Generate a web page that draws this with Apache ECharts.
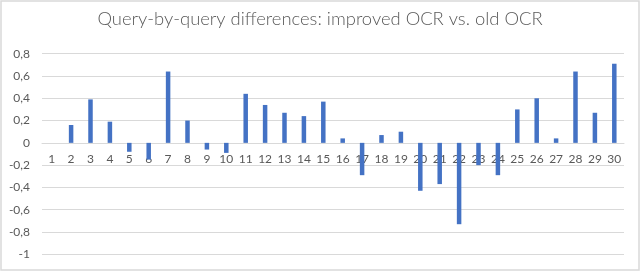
<!DOCTYPE html>
<html><head><meta charset="utf-8">
<script src="https://cdn.jsdelivr.net/npm/echarts@6/dist/echarts.min.js"></script>
<style>html,body{margin:0;padding:0;background:#fff}#c{width:640px;height:271px}</style>
</head><body><div id="c"></div>
<script>
const titleText = "Query-by-query differences: improved OCR vs. old OCR";
const categories = ["1","2","3","4","5","6","7","8","9","10","11","12","13","14","15","16","17","18","19","20","21","22","23","24","25","26","27","28","29","30"];
const differences = [0, 0.16, 0.39, 0.19, -0.08, -0.15, 0.64, 0.2, -0.06, -0.09, 0.44, 0.34, 0.27, 0.24, 0.37, 0.04, -0.29, 0.07, 0.1, -0.43, -0.37, -0.73, -0.2, -0.29, 0.3, 0.4, 0.04, 0.64, 0.27, 0.71];
const yMin = -1, yMax = 0.8, yStep = 0.2;

const gridTop = 53.7, gridBottom = 16.7, H = 271;
const plotH = H - gridTop - gridBottom;
const zeroOffset = -plotH * (0 - yMin) / (yMax - yMin);

const chart = echarts.init(document.getElementById('c'), null, {renderer:'canvas'});
chart.setOption({
  backgroundColor: '#ffffff',
  animation: false,
  title: {
    text: titleText, left: 'center', top: 5,
    textStyle: {fontFamily: 'Lato', fontWeight: 300, fontSize: 18.4, color: '#595959'}
  },
  graphic: [{
    type: 'rect', shape: {x: 1, y: 1, width: 638, height: 269},
    style: {fill: 'none', stroke: '#d9d9d9', lineWidth: 1.5}, silent: true
  }],
  grid: {left: 42, right: 16, top: gridTop, bottom: gridBottom, containLabel: false},
  xAxis: {
    type: 'category', data: categories, position: 'bottom', offset: zeroOffset,
    axisLine: {onZero: false, lineStyle: {color: '#d9d9d9', width: 1}},
    axisTick: {show: false},
    axisLabel: {color: '#595959', fontSize: 12, fontFamily: 'Lato', margin: 10, interval: 0}
  },
  yAxis: {
    type: 'value', min: yMin, max: yMax, interval: yStep,
    axisLine: {show: false}, axisTick: {show: false},
    splitLine: {lineStyle: {color: '#d9d9d9', width: 1}},
    axisLabel: {
      color: '#595959', fontSize: 12, fontFamily: 'Lato', margin: 12,
      formatter: v => String(Number(v.toFixed(1))).replace('.', ',')
    }
  },
  series: [{
    type: 'bar', data: differences, barWidth: 4.5,
    itemStyle: {color: '#4472C4'}
  }]
});
</script></body></html>
